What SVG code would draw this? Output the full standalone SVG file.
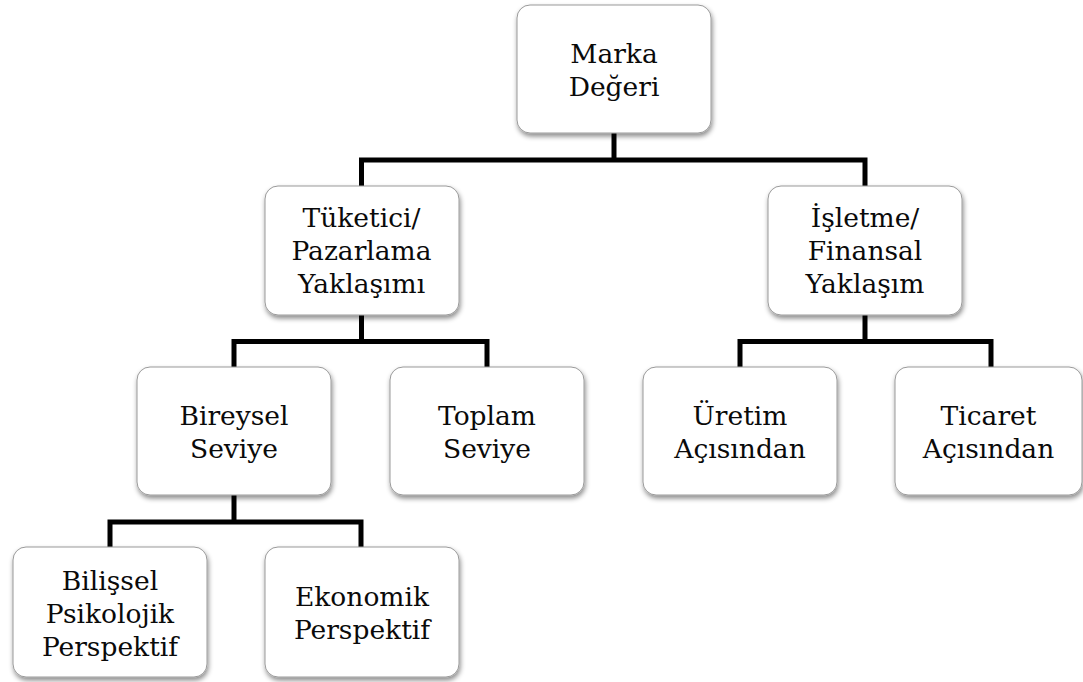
<svg xmlns="http://www.w3.org/2000/svg" width="1083" height="682" viewBox="0 0 1083 682">
  <defs>
    <filter id="shadow" x="-10%" y="-10%" width="120%" height="125%">
      <feDropShadow dx="1" dy="3" stdDeviation="2.5" flood-color="#000" flood-opacity="0.45"/>
    </filter>
    <style>
      .box { fill: #ffffff; stroke: #9a9a9a; stroke-width: 1; filter: url(#shadow); }
      text { font-family: 'DejaVu Serif', serif; font-size: 26.5px; fill: #0a0a0a; text-anchor: middle; }
      .wire { fill: none; stroke: #000; stroke-width: 5; stroke-linejoin: miter; stroke-linecap: butt; }
    </style>
  </defs>
  <rect width="1083" height="682" fill="#fff"/>

  <!-- connectors -->
  <g id="connectors">
    <path class="wire" d="M614,133 V160"/>
    <path class="wire" d="M361.5,186 V160 H865 V186"/>
    <path class="wire" d="M361.5,315 V341.5"/>
    <path class="wire" d="M234,367 V341.5 H487 V367"/>
    <path class="wire" d="M865,315 V341.5"/>
    <path class="wire" d="M740,367 V341.5 H991 V367"/>
    <path class="wire" d="M234,495 V522"/>
    <path class="wire" d="M110,547 V522 H361 V547"/>
  </g>

  <g id="marka-degeri">
    <rect class="box" x="517" y="5" width="194" height="128" rx="13"/>
    <text x="614" y="63">Marka</text>
    <text x="614" y="96">Değeri</text>
  </g>

  <g id="tuketici">
    <rect class="box" x="265" y="186" width="194" height="129" rx="13"/>
    <text x="361.5" y="227">Tüketici/</text>
    <text x="361.5" y="260">Pazarlama</text>
    <text x="361.5" y="293">Yaklaşımı</text>
  </g>

  <g id="isletme">
    <rect class="box" x="768" y="186" width="194" height="129" rx="13"/>
    <text x="865" y="227">İşletme/</text>
    <text x="865" y="260">Finansal</text>
    <text x="865" y="293">Yaklaşım</text>
  </g>

  <g id="bireysel">
    <rect class="box" x="137" y="367" width="194" height="128" rx="13"/>
    <text x="234" y="425">Bireysel</text>
    <text x="234" y="458">Seviye</text>
  </g>

  <g id="toplam">
    <rect class="box" x="390" y="367" width="194" height="128" rx="13"/>
    <text x="487" y="425">Toplam</text>
    <text x="487" y="458">Seviye</text>
  </g>

  <g id="uretim">
    <rect class="box" x="643" y="367" width="194" height="128" rx="13"/>
    <text x="740" y="425">Üretim</text>
    <text x="740" y="458">Açısından</text>
  </g>

  <g id="ticaret">
    <rect class="box" x="895" y="367" width="187" height="128" rx="13"/>
    <text x="988.5" y="425">Ticaret</text>
    <text x="988.5" y="458">Açısından</text>
  </g>

  <g id="bilissel">
    <rect class="box" x="13" y="547" width="194" height="130" rx="13"/>
    <text x="110" y="590">Bilişsel</text>
    <text x="110" y="623">Psikolojik</text>
    <text x="110" y="656">Perspektif</text>
  </g>

  <g id="ekonomik">
    <rect class="box" x="265" y="547" width="194" height="130" rx="13"/>
    <text x="362" y="606">Ekonomik</text>
    <text x="362" y="639">Perspektif</text>
  </g>
</svg>
